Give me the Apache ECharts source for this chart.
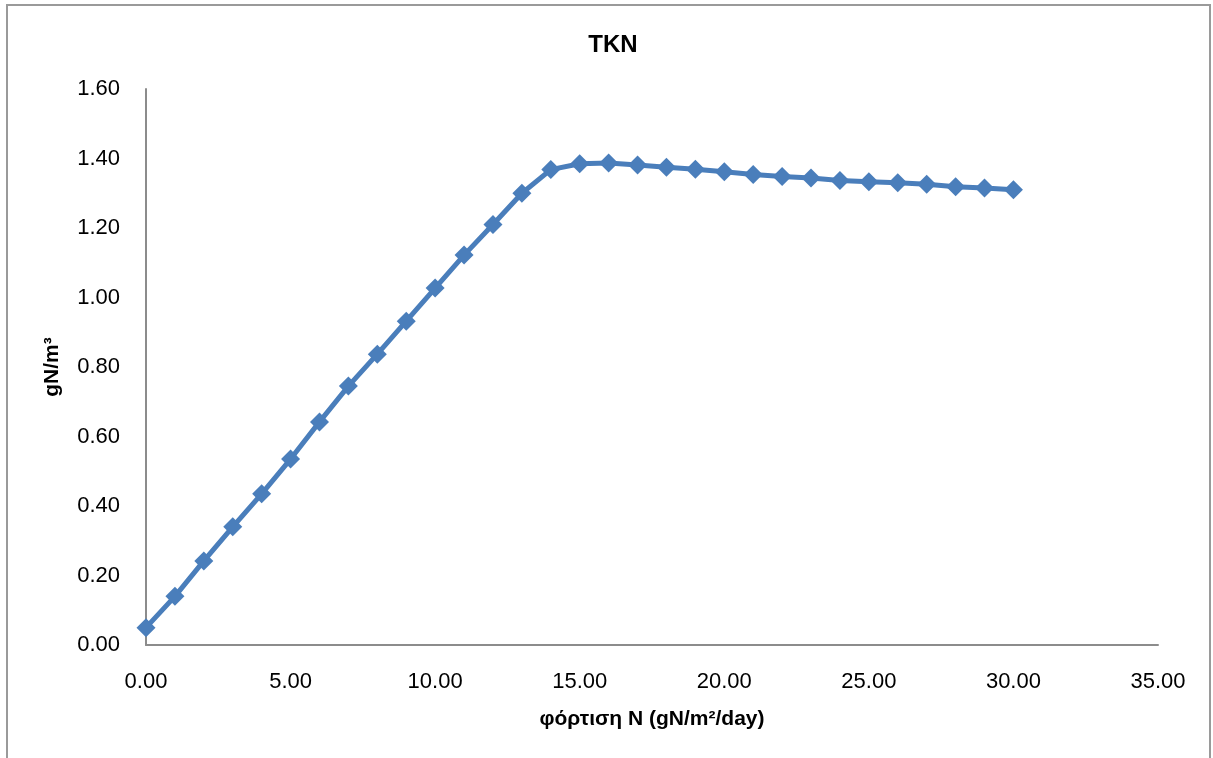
<!DOCTYPE html>
<html>
<head>
<meta charset="utf-8">
<script src="https://cdn.jsdelivr.net/npm/echarts@6/dist/echarts.min.js"></script>
<style>
html,body{margin:0;padding:0;background:#fff;}
#chart{width:1213px;height:758px;}
</style>
</head>
<body>
<div id="chart"></div>
<script>
const titleText = 'TKN';
const xAxisName = 'φόρτιση N (gN/m²/day)';
const yAxisName = 'gN/m³';
const loadingN = [0,1,2,3,4,5,6,7,8,9,10,11,12,13,14,15,16,17,18,19,20,21,22,23,24,25,26,27,28,29,30];
const tknValues = [0.05,0.14,0.242,0.34,0.435,0.535,0.642,0.745,0.837,0.932,1.027,1.122,1.21,1.30,1.368,1.385,1.387,1.381,1.375,1.369,1.362,1.354,1.348,1.344,1.337,1.333,1.330,1.326,1.319,1.315,1.310];

const seriesData = loadingN.map((x, i) => [x, tknValues[i]]);
const font = '"Liberation Sans", Arial, sans-serif';

const chart = echarts.init(document.getElementById('chart'), null, {renderer: 'canvas'});
chart.setOption({
  backgroundColor: '#ffffff',
  animation: false,
  title: {
    text: titleText,
    left: 608, top: 28,
    textAlign: 'center',
    textStyle: {fontFamily: font, fontSize: 24, fontWeight: 'bold', color: '#000'}
  },
  graphic: [{
    type: 'rect',
    shape: {x: 7, y: 5, width: 1203, height: 760},
    style: {fill: 'none', stroke: '#9a9a9a', lineWidth: 2},
    silent: true
  }],
  grid: {left: 146, right: 55, top: 89, bottom: 113, containLabel: false},
  xAxis: {
    type: 'value',
    min: 0, max: 35, interval: 5,
    name: xAxisName,
    nameLocation: 'middle',
    nameGap: 64,
    nameTextStyle: {fontFamily: font, fontSize: 21, fontWeight: 'bold', color: '#000'},
    axisLine: {show: true, lineStyle: {color: '#8c8c8c', width: 2}},
    axisTick: {show: false},
    splitLine: {show: false},
    axisLabel: {
      fontFamily: font, fontSize: 22, color: '#000', margin: 26,
      formatter: v => v.toFixed(2)
    }
  },
  yAxis: {
    type: 'value',
    min: 0, max: 1.6, interval: 0.2,
    name: yAxisName,
    nameLocation: 'middle',
    nameGap: 83,
    nameRotate: 90,
    nameTextStyle: {fontFamily: font, fontSize: 21, fontWeight: 'bold', color: '#000'},
    axisLine: {show: true, lineStyle: {color: '#8c8c8c', width: 2}},
    axisTick: {show: false},
    splitLine: {show: false},
    axisLabel: {
      fontFamily: font, fontSize: 22, color: '#000', margin: 26,
      formatter: v => v.toFixed(2)
    }
  },
  series: [{
    type: 'line',
    data: seriesData,
    symbol: 'diamond',
    symbolSize: 19,
    lineStyle: {color: '#4a7ebb', width: 5},
    itemStyle: {color: '#4a7ebb'}
  }]
});
</script>
</body>
</html>
